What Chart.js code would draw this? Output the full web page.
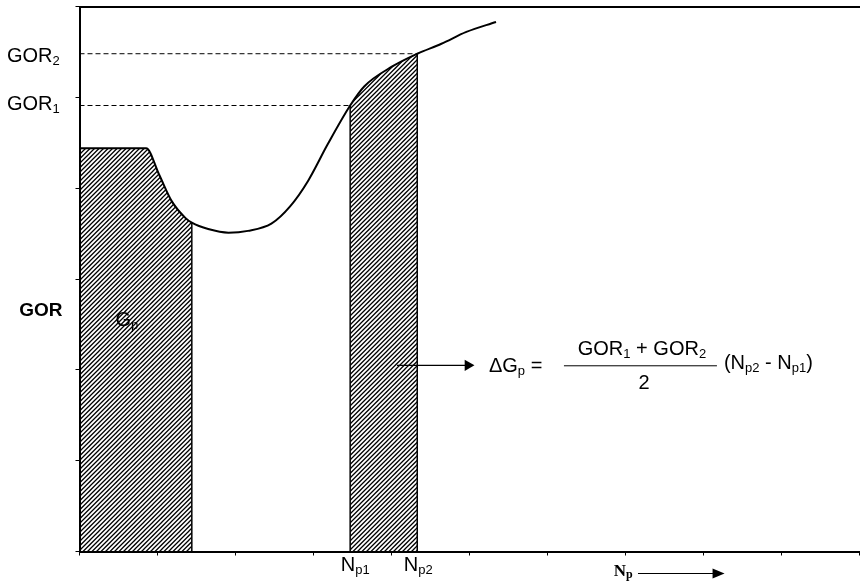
<!DOCTYPE html>
<html lang="en">
<head>
  <meta charset="UTF-8">
  <title>GOR vs Np</title>
  <script src="https://cdn.jsdelivr.net/npm/chart.js"></script>
  <style>
    html, body { margin: 0; padding: 0; background: #fff; overflow: hidden; }
    .chart-box { position: relative; width: 866px; height: 582px; }
  </style>
</head>
<body>
  <div class="chart-box"><canvas id="gor_chart"></canvas></div>
  <script>
    // GOR curve (both axes in tick units)
    var curveX = [0, 0.854, 1.02, 1.18, 1.36, 1.44, 1.65, 1.91, 2.16, 2.46, 2.70, 2.93, 3.18, 3.47, 3.65, 4.01, 4.33, 4.64, 4.96, 5.34];
    var curveY = [4.44, 4.44, 4.15, 3.86, 3.67, 3.62, 3.55, 3.51, 3.53, 3.61, 3.80, 4.08, 4.48, 4.91, 5.12, 5.34, 5.48, 5.59, 5.72, 5.83];
    var gpEdge = 1.44;            // right edge of the Gp area
    var np1 = 3.47, np2 = 4.33;   // Np1, Np2
    var gor1 = 4.91, gor2 = 5.48; // GOR1, GOR2
    var xRange = [0, 10];
    var yRange = [0, 6];
    var arrowX = [4.07, 4.98], arrowY = 2.05;

    function pts(lo, hi) {
      var out = [];
      curveX.forEach(function(x, i) { if (x >= lo && x <= hi) out.push({ x: x, y: curveY[i] }); });
      return out;
    }
    function vline(x, top) { return [{ x: x, y: 0 }, { x: x, y: top }]; }

    // diagonal "/" hatching
    function hatch() {
      var s = 9, c = document.createElement('canvas');
      c.width = s; c.height = s;
      var g = c.getContext('2d');
      g.strokeStyle = '#000'; g.lineWidth = 1.3;
      g.beginPath();
      for (var k = 0; k <= 18; k += 4.5) { g.moveTo(k + 2, -2); g.lineTo(k - 11, 11); }
      g.stroke();
      return g.createPattern(c, 'repeat');
    }
    var pattern = hatch();

    var MAIN = '20px Arial, "Liberation Sans", sans-serif';
    var SUB = '13px Arial, "Liberation Sans", sans-serif';

    function rich(ctx, parts, x, y, align) {
      var w = 0;
      parts.forEach(function(p) { ctx.font = p[1] ? SUB : MAIN; w += ctx.measureText(p[0]).width; });
      if (align === 'center') x -= w / 2; else if (align === 'right') x -= w;
      ctx.textAlign = 'left';
      parts.forEach(function(p) {
        ctx.font = p[1] ? SUB : MAIN;
        ctx.fillText(p[0], x, p[1] ? y + 5 : y);
        x += ctx.measureText(p[0]).width;
      });
      return x;
    }

    // text labels, formula, Np arrow
    var notes = {
      id: 'notes',
      afterDraw: function(chart) {
        var ctx = chart.ctx, xs = chart.scales.x, ys = chart.scales.y, a = chart.chartArea;
        ctx.save();
        ctx.fillStyle = '#000'; ctx.strokeStyle = '#000';
        ctx.textBaseline = 'middle';

        rich(ctx, [['GOR'], ['2', 1]], 7, ys.getPixelForValue(gor2) + 3);
        rich(ctx, [['GOR'], ['1', 1]], 7, ys.getPixelForValue(gor1) - 1);
        ctx.font = 'bold 19px Arial, "Liberation Sans", sans-serif';
        ctx.textAlign = 'right';
        ctx.fillText('GOR', a.left - 17, ys.getPixelForValue(2.65));
        rich(ctx, [['G'], ['p', 1]], xs.getPixelForValue(0.46), ys.getPixelForValue(2.54));

        rich(ctx, [['N'], ['p1', 1]], xs.getPixelForValue(np1) + 5, a.bottom + 14, 'center');
        rich(ctx, [['N'], ['p2', 1]], xs.getPixelForValue(np2) + 1, a.bottom + 14, 'center');

        // Np ---->
        var nx = xs.getPixelForValue(6.85), ny = a.bottom + 20;
        ctx.textAlign = 'left';
        ctx.font = 'bold 17px "Times New Roman", "Liberation Serif", serif';
        ctx.fillText('N', nx, ny);
        var nw = ctx.measureText('N').width;
        ctx.font = 'bold 12px "Times New Roman", "Liberation Serif", serif';
        ctx.fillText('p', nx + nw, ny + 3);
        var ax0 = xs.getPixelForValue(7.16), ax1 = xs.getPixelForValue(8.27);
        ctx.lineWidth = 1.2;
        ctx.beginPath(); ctx.moveTo(ax0, ny + 2); ctx.lineTo(ax1 - 10, ny + 2); ctx.stroke();
        ctx.beginPath(); ctx.moveTo(ax1, ny + 2); ctx.lineTo(ax1 - 12, ny - 3); ctx.lineTo(ax1 - 12, ny + 7); ctx.closePath(); ctx.fill();

        // formula
        var tip = xs.getPixelForValue(arrowX[1]) + 7, fy = ys.getPixelForValue(arrowY);
        rich(ctx, [['\u0394G'], ['p', 1], [' =']], tip + 14, fy + 1);
        ctx.lineWidth = 1;
        ctx.beginPath(); ctx.moveTo(tip + 89, fy + 0.5); ctx.lineTo(tip + 242, fy + 0.5); ctx.stroke();
        rich(ctx, [['GOR'], ['1', 1], [' + GOR'], ['2', 1]], tip + 167, fy - 16, 'center');
        rich(ctx, [['2']], tip + 169, fy + 18, 'center');
        rich(ctx, [['(N'], ['p2', 1], [' - N'], ['p1', 1], [')']], tip + 249, fy - 2);
        ctx.restore();
      }
    };

    var hatchSet = { borderWidth: 0, pointRadius: 0, fill: 'origin', backgroundColor: pattern, cubicInterpolationMode: 'monotone', order: 5 };
    var edgeSet = { borderColor: '#000', borderWidth: 1.5, pointRadius: 0, fill: false, tension: 0, order: 2 };
    var dashSet = { borderColor: '#000', borderWidth: 1, borderDash: [5, 3], pointRadius: 0, fill: false, tension: 0, order: 3 };

    var config = {
      type: 'line',
      data: {
        datasets: [
          Object.assign({ label: 'Gp', data: pts(0, gpEdge) }, hatchSet),
          Object.assign({ label: 'dGp', data: pts(np1, np2) }, hatchSet),
          Object.assign({ label: 'gpEdge', data: vline(gpEdge, curveY[curveX.indexOf(gpEdge)]) }, edgeSet),
          Object.assign({ label: 'np1', data: vline(np1, gor1) }, edgeSet),
          Object.assign({ label: 'np2', data: vline(np2, gor2) }, edgeSet),
          Object.assign({ label: 'gor1', data: [{ x: 0, y: gor1 }, { x: np1, y: gor1 }] }, dashSet),
          Object.assign({ label: 'gor2', data: [{ x: 0, y: gor2 }, { x: np2, y: gor2 }] }, dashSet),
          {
            label: 'arrow', data: [{ x: arrowX[0], y: arrowY }, { x: arrowX[1], y: arrowY }],
            borderColor: '#000', borderWidth: 1.2, tension: 0, fill: false, order: 1,
            pointRadius: [0, 6.5], pointStyle: 'triangle', pointRotation: 90,
            pointBackgroundColor: '#000', pointBorderColor: '#000', pointBorderWidth: 0
          },
          {
            label: 'GOR', data: pts(0, 99),
            borderColor: '#000', borderWidth: 2, pointRadius: 0, fill: false,
            cubicInterpolationMode: 'monotone', order: 0
          }
        ]
      },
      options: {
        responsive: true,
        maintainAspectRatio: false,
        animation: false,
        layout: { padding: 0 },
        plugins: { legend: { display: false }, tooltip: { enabled: false } },
        scales: {
          x: {
            type: 'linear', min: xRange[0], max: xRange[1],
            ticks: { display: false, stepSize: 1 },
            grid: { display: true, drawOnChartArea: false, drawTicks: true, tickLength: 4, color: '#000', lineWidth: 1 },
            border: { display: true, color: '#000', width: 2 },
            afterFit: function(s) { s.height = 30.5; }
          },
          xTop: {
            type: 'linear', position: 'top', min: xRange[0], max: xRange[1],
            ticks: { display: false },
            grid: { display: false },
            border: { display: true, color: '#000', width: 2 },
            afterFit: function(s) { s.height = 5; }
          },
          y: {
            type: 'linear', min: yRange[0], max: yRange[1],
            ticks: { display: false, stepSize: 1 },
            grid: { display: true, drawOnChartArea: false, drawTicks: true, tickLength: 4, color: '#000', lineWidth: 1 },
            border: { display: true, color: '#000', width: 2 },
            afterFit: function(s) { s.width = 79.5; }
          }
        }
      },
      plugins: [notes]
    };
    var chart = new Chart(document.getElementById('gor_chart').getContext('2d'), config);
  </script>
</body>
</html>
